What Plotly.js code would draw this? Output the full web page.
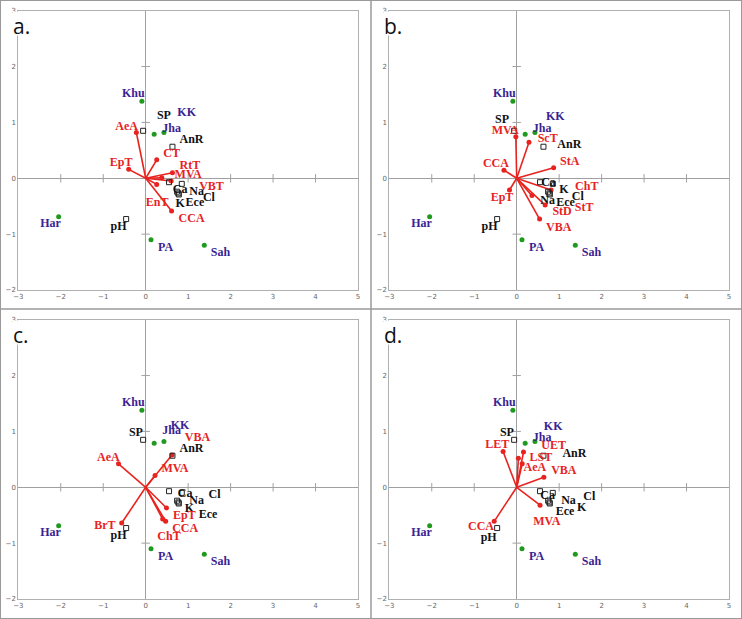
<!DOCTYPE html>
<html><head><meta charset="utf-8">
<script src="https://cdn.plot.ly/plotly-3.0.1.min.js"></script>
<style>html,body{margin:0;padding:0;background:#fff}#chart{width:742px;height:619px}</style>
</head><body><div id="chart"></div>
<script>
// ---- data ----
const sites = ['Khu','KK','Jha','Har','PA','Sah'];
const siteX = [-0.09, 0.20, 0.43, -2.05, 0.125, 1.38];
const siteY = [1.38, 0.79, 0.82, -0.69, -1.10, -1.20];

const soilVars = ['SP','AnR','pH','Ca','Na','K','Cl','Ece'];
const soilX = [-0.06, 0.63, -0.46, 0.55, 0.85, 0.74, 0.78, 0.77];
const soilY = [0.85, 0.565, -0.73, -0.07, -0.10, -0.24, -0.29, -0.27];

const traitsA = ['AeA','EpT','CT','RtT','MVA','VBT','EnT','CCA'];
const traitsAX = [-0.22, -0.40, 0.26, 0.63, 0.38, 0.60, 0.26, 0.61];
const traitsAY = [0.82, 0.16, 0.33, 0.10, 0.01, -0.05, -0.11, -0.585];

const traitsB = ['MVA','ScT','StA','CCA','EpT','ChT','StT','StD','VBA'];
const traitsBX = [-0.02, 0.29, 0.87, -0.30, -0.17, 0.81, 0.67, 0.36, 0.54];
const traitsBY = [0.745, 0.645, 0.19, 0.145, -0.21, -0.21, -0.48, -0.31, -0.73];

const traitsC = ['VBA','MVA','AeA','BrT','EpT','CCA','ChT'];
const traitsCX = [0.62, 0.22, -0.64, -0.565, 0.49, 0.47, 0.40];
const traitsCY = [0.58, 0.21, 0.42, -0.64, -0.37, -0.61, -0.57];

const traitsD = ['LET','UET','LST','AeA','VBA','MVA','CCA'];
const traitsDX = [-0.32, 0.16, 0.04, 0.13, 0.64, 0.55, -0.53];
const traitsDY = [0.64, 0.63, 0.52, 0.42, 0.18, -0.32, -0.61];

const xTicks = [-3,-2,-1,0,1,2,3,4,5];
const yTicks = [-2,-1,0,1,2,3];
const panelLetters = ['a.','b.','c.','d.'];

// ---- label placement (layout only) ----
const commonPos = {Khu:[-0.29,1.50], Har:[-2.24,-0.82], pH:[-0.64,-0.88], PA:[0.47,-1.25], Sah:[1.76,-1.34]};
const labelPos = [
  {SP:[0.43,1.12], KK:[0.965,1.16], Jha:[0.61,0.89], AnR:[1.08,0.68], Ca:[0.81,-0.21], Na:[1.2,-0.245], Cl:[1.49,-0.36], K:[0.81,-0.46], Ece:[1.16,-0.45],
   AeA:[-0.45,0.92], CT:[0.61,0.44], EpT:[-0.58,0.27], RtT:[1.04,0.22], MVA:[1.0,0.05], VBT:[1.55,-0.16], EnT:[0.27,-0.435], CCA:[1.08,-0.73]},
  {SP:[-0.345,1.04], KK:[0.91,1.10], Jha:[0.60,0.89], AnR:[1.24,0.59], Ca:[0.75,-0.09], K:[1.11,-0.21], Cl:[1.44,-0.33], Na:[0.73,-0.41], Ece:[1.15,-0.45],
   MVA:[-0.27,0.85], ScT:[0.73,0.70], CCA:[-0.49,0.26], StA:[1.25,0.29], ChT:[1.65,-0.15], EpT:[-0.345,-0.36], StT:[1.59,-0.54], StD:[1.07,-0.61], VBA:[0.99,-0.89]},
  {SP:[-0.23,0.97], KK:[0.81,1.10], Jha:[0.61,1.0], AnR:[1.08,0.68], Ca:[0.93,-0.125], Cl:[1.62,-0.14], Na:[1.2,-0.24], K:[1.03,-0.39], Ece:[1.47,-0.49],
   VBA:[1.22,0.88], AeA:[-0.88,0.53], MVA:[0.69,0.32], EpT:[0.91,-0.51], BrT:[-0.96,-0.69], CCA:[0.93,-0.75], ChT:[0.55,-0.89]},
  {SP:[-0.23,0.97], KK:[0.86,1.085], Jha:[0.60,0.89], AnR:[1.36,0.59], Ca:[0.73,-0.15], Cl:[1.71,-0.17], Na:[1.22,-0.245], K:[1.53,-0.37], Ece:[1.14,-0.45],
   LET:[-0.46,0.76], UET:[0.87,0.73], LST:[0.57,0.52], AeA:[0.43,0.34], VBA:[1.11,0.29], MVA:[0.71,-0.63], CCA:[-0.84,-0.72], pH:[-0.66,-0.91]}
];

const panels = [
  {names: traitsA, x: traitsAX, y: traitsAY},
  {names: traitsB, x: traitsBX, y: traitsBY},
  {names: traitsC, x: traitsCX, y: traitsCY},
  {names: traitsD, x: traitsDX, y: traitsDY}
];

const W = 742, H = 619;
const xDom = [[18.3/W, 358/W], [389.3/W, 729/W]];
const yDom = [[1-290/H, 1-10.7/H], [1-599/H, 1-319.7/H]];

const RED = '#e8231f', BLUE = '#3a2392', GREEN = '#1f9a1f', GREY = '#a0a0a0';
const labelFont = 'Liberation Serif, Times New Roman, serif';

const traces = [];
const layout = {
  width: W, height: H, margin: {l:0, r:0, t:0, b:0},
  paper_bgcolor: '#fff', plot_bgcolor: '#fff', showlegend: false,
  annotations: [], shapes: []
};

panels.forEach((p, i) => {
  const sfx = i === 0 ? '' : String(i+1);
  const xa = 'x' + sfx, ya = 'y' + sfx;
  const col = i % 2, row = Math.floor(i / 2);
  const axCommon = {showgrid:false, zeroline:true, zerolinecolor:GREY, zerolinewidth:1,
    showline:true, mirror:true, linecolor:'#b0b0b0', linewidth:1, ticks:'',
    tickfont:{size:7, color:'#666', family:'DejaVu Sans, sans-serif'}, fixedrange:true};
  layout['xaxis' + sfx] = Object.assign({}, axCommon, {domain: xDom[col], range:[-3,5], tickvals:xTicks, ticklen:0, anchor: ya});
  layout['yaxis' + sfx] = Object.assign({}, axCommon, {domain: yDom[row], range:[-2,3], tickvals:yTicks, anchor: xa});

  // tick marks on the zero lines
  const tx = xTicks.filter(t => t !== 0 && t !== xTicks[0] && t !== xTicks[xTicks.length-1]);
  const ty = yTicks.filter(t => t !== 0 && t !== yTicks[0] && t !== yTicks[yTicks.length-1]);
  traces.push({type:'scatter', mode:'markers', xaxis:xa, yaxis:ya, hoverinfo:'skip',
    x: tx, y: tx.map(() => 0), marker:{symbol:'line-ns-open', size:6, color:GREY, line:{color:GREY, width:1}}});
  traces.push({type:'scatter', mode:'markers', xaxis:xa, yaxis:ya, hoverinfo:'skip',
    x: ty.map(() => 0), y: ty, marker:{symbol:'line-ew-open', size:6, color:GREY, line:{color:GREY, width:1}}});

  // arrows (vectors from origin)
  const lx = [], ly = [];
  p.x.forEach((v, k) => { lx.push(0, v, null); ly.push(0, p.y[k], null); });
  traces.push({type:'scatter', mode:'lines', xaxis:xa, yaxis:ya, x:lx, y:ly,
    line:{color:RED, width:1.6}, hoverinfo:'skip'});
  traces.push({type:'scatter', mode:'markers', xaxis:xa, yaxis:ya, x:p.x, y:p.y, text:p.names,
    marker:{color:RED, size:5}});

  // sites and soil variables
  traces.push({type:'scatter', mode:'markers', xaxis:xa, yaxis:ya, x:siteX, y:siteY, text:sites,
    marker:{color:GREEN, size:5}});
  traces.push({type:'scatter', mode:'markers', xaxis:xa, yaxis:ya, x:soilX, y:soilY, text:soilVars,
    marker:{symbol:'square-open', color:'#222', size:5, line:{width:1, color:'#222'}}});

  // labels
  const pos = Object.assign({}, commonPos, labelPos[i]);
  const addLabels = (names, color) => {
    traces.push({type:'scatter', mode:'text', xaxis:xa, yaxis:ya, hoverinfo:'skip', cliponaxis:false,
      x: names.map(n => pos[n][0]), y: names.map(n => pos[n][1]),
      text: names.map(n => '<b>' + n + '</b>'), textposition:'middle center',
      textfont:{family:labelFont, size:12, color:color}});
  };
  addLabels(sites, BLUE);
  addLabels(soilVars, '#111');
  addLabels(p.names, RED);

  // panel letter with white box
  layout.annotations.push({xref:'paper', yref:'paper', x:(12 + col*371)/W, y:1 - (11 + row*309)/H,
    xanchor:'left', yanchor:'top', showarrow:false, text:panelLetters[i], align:'left',
    font:{family:'Open Sans, DejaVu Sans, sans-serif', size:21, color:'#111'},
    bgcolor:'#fff', width:20, height:23, borderpad:0, valign:'top'});
});

// panel separators and outer border
layout.shapes.push({type:'rect', xref:'paper', yref:'paper', x0:0, x1:1, y0:0, y1:1, line:{color:'#9a9a9a', width:2}});
layout.shapes.push({type:'line', xref:'paper', yref:'paper', x0:371/W, x1:371/W, y0:0, y1:1, line:{color:'#9a9a9a', width:1.5}});
layout.shapes.push({type:'line', xref:'paper', yref:'paper', x0:0, x1:1, y0:1-309/H, y1:1-309/H, line:{color:'#9a9a9a', width:1.5}});

Plotly.newPlot('chart', traces, layout, {staticPlot:true, displayModeBar:false});
</script>
</body></html>
